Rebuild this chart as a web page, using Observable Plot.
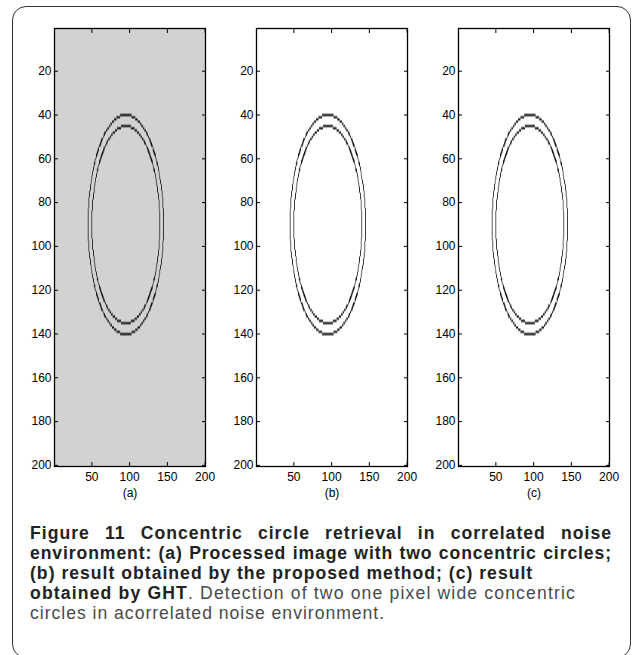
<!DOCTYPE html>
<html>
<head>
<meta charset="utf-8">
<script src="https://cdn.jsdelivr.net/npm/d3@7"></script>
<script src="https://cdn.jsdelivr.net/npm/@observablehq/plot@0.6"></script>
<style>
  html, body { margin: 0; padding: 0; background: #fff; }
  body { width: 632px; height: 655px; position: relative; overflow: hidden; }
  #box { position: absolute; left: 12px; top: 6px; width: 619px; height: 652px;
         border: 1.5px solid #333; border-radius: 14px; box-sizing: border-box; }
  .panel { position: absolute; top: 0; overflow: visible; }
  #caption { position: absolute; left: 30px; top: 523px; width: 582px;
             font-family: "Liberation Sans", Arial, sans-serif; font-size: 17.6px; line-height: 20px; color: #4a4a4a; }
  #caption div { white-space: nowrap; height: 20px; }
  #caption .j { text-align: justify; text-align-last: justify; }
  #caption span.fit { display: inline-block; }
  #caption b { color: #222; font-weight: 700; }
</style>
</head>
<body>
<div id="box"></div>
<div id="charts"></div>
<div id="caption">
  <div class="j"><b>Figure 11 Concentric circle retrieval in correlated noise</b></div>
  <div class="j"><b>environment: (a) Processed image with two concentric circles;</b></div>
  <div><span class="fit" data-w="503"><b>(b) result obtained by the proposed method; (c) result</b></span></div>
  <div><span class="fit" data-w="546"><b>obtained by GHT</b>. Detection of two one pixel wide concentric</span></div>
  <div><span class="fit" data-w="355">circles in acorrelated noise environment.</span></div>
</div>
<script>
// ---- data ----
const panelLabels = ["(a)", "(b)", "(c)"];
const panelBackgrounds = ["#d2d2d2", "#ffffff", "#ffffff"];
const circleCenterX = [95, 95];
const circleCenterY = [90, 90];
const circleRadius = [50, 45];
const imageSize = 200;
const xTicks = [50, 100, 150, 200];
const yTicks = [20, 40, 60, 80, 100, 120, 140, 160, 180, 200];

// ---- drawing ----
const lefts = [4, 206, 408];
const font = "'Liberation Sans', Arial, sans-serif";

function onRing(x, y) {
  for (let k = 0; k < circleRadius.length; k++) {
    const d = Math.hypot(x - circleCenterX[k], y - circleCenterY[k]);
    if (Math.abs(d - circleRadius[k]) < 0.5) return 1;
  }
  return 0;
}

panelLabels.forEach((lab, i) => {
  const chart = Plot.plot({
    width: 220,
    height: 506,
    marginLeft: 50,
    marginRight: 19,
    marginTop: 28,
    marginBottom: 40,
    style: { fontFamily: font, fontSize: "12px", color: "#000", background: "transparent", overflow: "visible" },
    x: { domain: [0.5, imageSize + 0.5] },
    y: { domain: [0.5, imageSize + 0.5], reverse: true },
    marks: [
      Plot.frame({ fill: panelBackgrounds[i], stroke: null }),
      Plot.raster({
        x1: 0.5, x2: imageSize + 0.5, y1: 0.5, y2: imageSize + 0.5,
        width: imageSize, height: imageSize,
        fill: "#111",
        fillOpacity: (x, y) => onRing(x, y)
      }),
      Plot.axisX(xTicks, { anchor: "bottom", tickSize: -4, tickPadding: 10, label: null, fontSize: 12 }),
      Plot.axisX(xTicks, { anchor: "top", tickSize: -4, tickFormat: () => "", label: null }),
      Plot.axisY(yTicks, { anchor: "left", tickSize: -4, tickPadding: 7, label: null, fontSize: 12 }),
      Plot.axisY(yTicks, { anchor: "right", tickSize: -4, tickFormat: () => "", label: null }),
      Plot.frame({ stroke: "#000", strokeWidth: 1.3 }),
      Plot.text([lab], { frameAnchor: "bottom", dy: 30, text: d => d, fontSize: 12 })
    ]
  });
  chart.classList.add("panel");
  chart.style.left = lefts[i] + "px";
  document.getElementById("charts").appendChild(chart);
});

// fit caption line widths to the reference by slight letter spacing
let boldLs = 0;
document.querySelectorAll("#caption span.fit").forEach((s, k) => {
  const target = +s.dataset.w;
  const w = s.getBoundingClientRect().width;
  const n = s.textContent.length;
  const ls = Math.max(-0.5, Math.min(1.2, (target - w) / n));
  if (k === 0) boldLs = ls;
  s.style.letterSpacing = ls.toFixed(2) + "px";
});
document.querySelectorAll("#caption .j").forEach(d => {
  d.style.textAlign = "left";
  d.style.textAlignLast = "left";
  const b = d.querySelector("b");
  const w = b.getBoundingClientRect().width;
  const n = b.textContent.length;
  const ls = Math.max(0, Math.min(boldLs, (582 - w - 4) / n));
  d.style.letterSpacing = ls.toFixed(2) + "px";
  d.style.textAlign = "";
  d.style.textAlignLast = "";
});
</script>
</body>
</html>
